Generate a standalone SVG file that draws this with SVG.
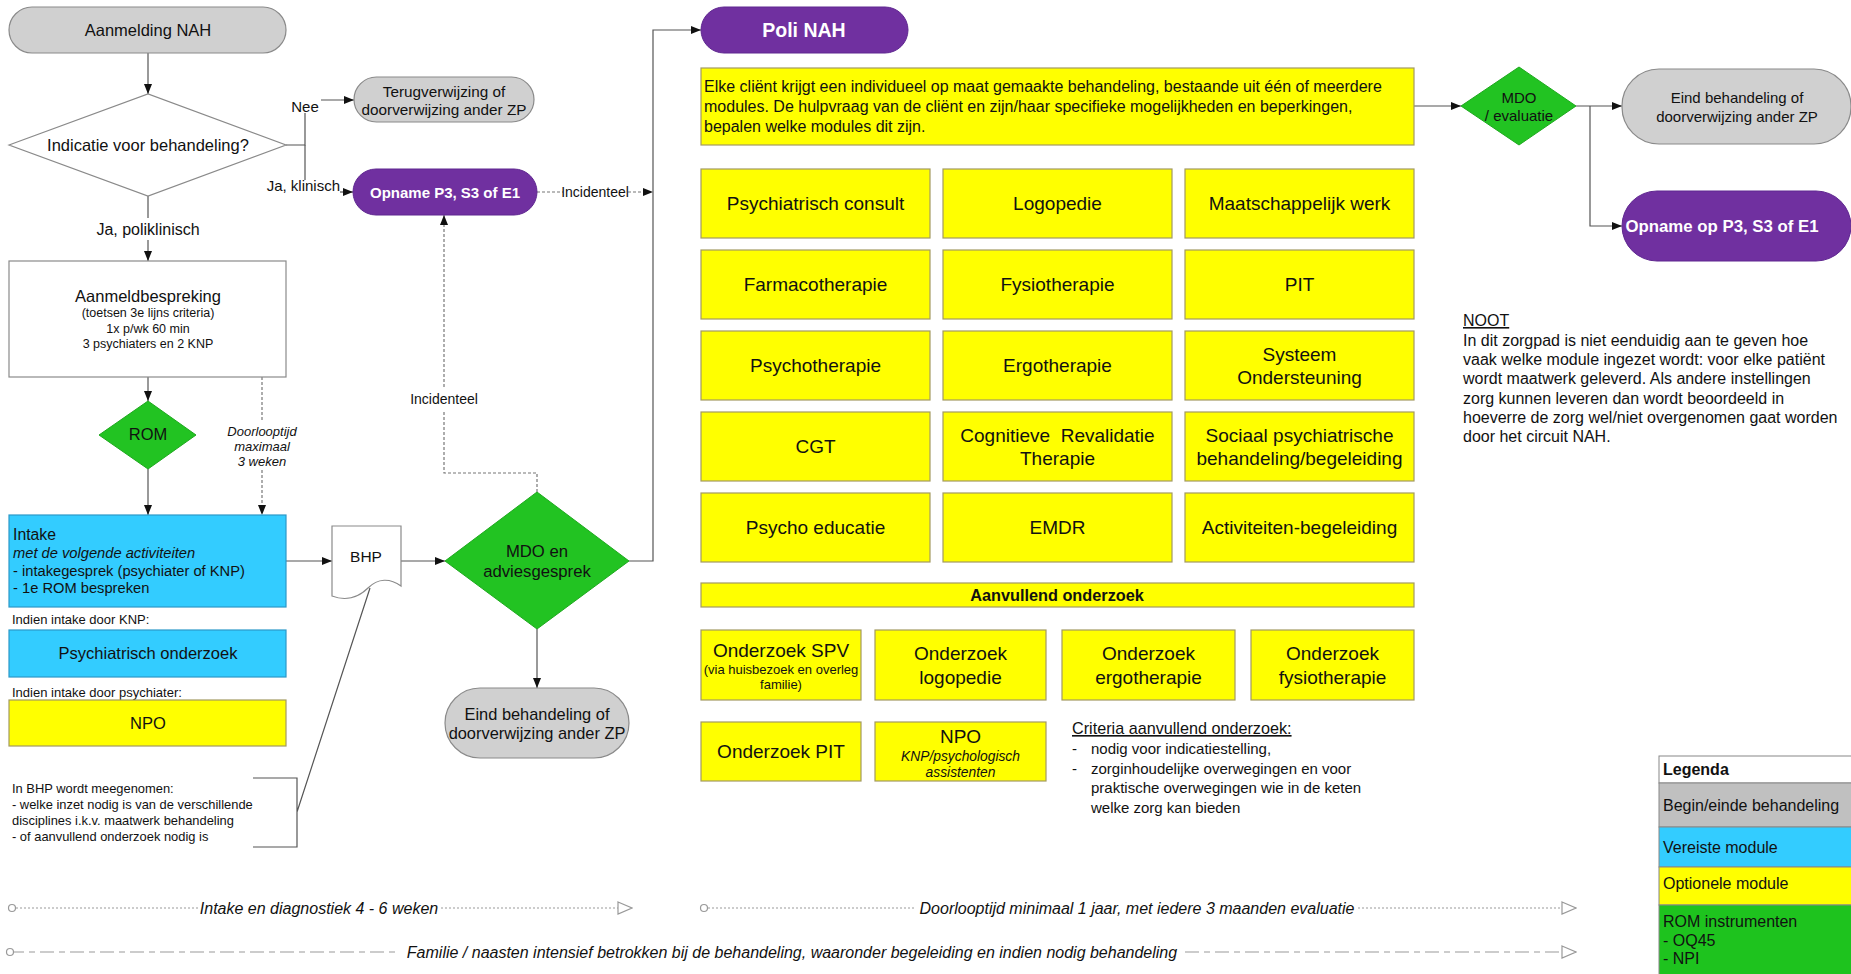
<svg xmlns="http://www.w3.org/2000/svg" width="1851" height="974" viewBox="0 0 1851 974">
  <defs>
    <style>
      text { font-family: "Liberation Sans", Arial, sans-serif; fill: #111; }
      .c { text-anchor: middle; dominant-baseline: central; }
      .gray { fill: #d0d0d0; stroke: #8a8a8a; stroke-width: 1.2; }
      .purple { fill: #7030a0; stroke: #5f2790; stroke-width: 1; }
      .yellow { fill: #ffff00; stroke: #a39a62; stroke-width: 1.2; }
      .blue { fill: #33ccff; stroke: #2c98c8; stroke-width: 1.2; }
      .green { fill: #22c322; stroke: #1ea81e; stroke-width: 1; }
      .white { fill: #ffffff; stroke: #8a8a8a; stroke-width: 1.2; }
      .wt { fill: #ffffff; font-weight: bold; }
      .mod { font-size: 19px; }
      .line { fill: none; stroke: #555; stroke-width: 1.2; }
      .dot { fill: none; stroke: #777; stroke-width: 1.2; stroke-dasharray: 3 2; }
      .tl { fill: none; stroke: #999; stroke-width: 1; stroke-dasharray: 2 2; }
      .tl2 { fill: none; stroke: #999; stroke-width: 1.2; stroke-dasharray: 14 5 6 5; }
      .lbl { font-size: 15px; }
      .tll { font-size: 16px; font-style: italic; }
    </style>
    <marker id="arr" viewBox="0 0 10 10" refX="10" refY="5" markerWidth="10" markerHeight="10" markerUnits="userSpaceOnUse" orient="auto">
      <path d="M0,1 L10,5 L0,9 Z" fill="#111"/>
    </marker>
    <marker id="open" viewBox="0 0 16 14" refX="15" refY="7" markerWidth="16" markerHeight="14" markerUnits="userSpaceOnUse" orient="auto">
      <path d="M1,1 L15,7 L1,13 Z" fill="#fff" stroke="#999" stroke-width="1.2"/>
    </marker>
    <marker id="ring" viewBox="0 0 10 10" refX="5" refY="5" markerWidth="10" markerHeight="10" markerUnits="userSpaceOnUse">
      <circle cx="5" cy="5" r="3.5" fill="#fff" stroke="#999" stroke-width="1.2"/>
    </marker>
  </defs>

  <rect width="1851" height="974" fill="#ffffff"/>

  <!-- connectors -->
  <g id="connectors">
    <path class="line" d="M148,53 V94" marker-end="url(#arr)"/>
    <path class="line" d="M286,145 H305 V113"/>
    <path class="line" d="M305,145 V180"/>
    <path class="line" d="M321,100 H354" marker-end="url(#arr)"/>
    <path class="line" d="M340,192 H353" marker-end="url(#arr)"/>
    <path class="line" d="M148,196 V218"/>
    <path class="line" d="M148,240 V261" marker-end="url(#arr)"/>
    <path class="line" d="M148,377 V401" marker-end="url(#arr)"/>
    <path class="line" d="M148,469 V515" marker-end="url(#arr)"/>
    <path class="dot" d="M262,377 V422"/>
    <path class="dot" d="M262,470 V515" marker-end="url(#arr)"/>
    <path class="line" d="M286,561 H332" marker-end="url(#arr)"/>
    <path class="line" d="M401,561 H445" marker-end="url(#arr)"/>
    <path class="dot" d="M537,492 V473 H444 V410"/>
    <path class="dot" d="M444,387 V215" marker-end="url(#arr)"/>
    <path class="dot" d="M537,192 H563"/>
    <path class="dot" d="M628,192 H653" marker-end="url(#arr)"/>
    <path class="line" d="M629,561 H653 V30 H701" marker-end="url(#arr)"/>
    <path class="line" d="M537,629 V688" marker-end="url(#arr)"/>
    <path class="line" d="M1414,106 H1461" marker-end="url(#arr)"/>
    <path class="line" d="M1576,106 H1622" marker-end="url(#arr)"/>
    <path class="line" d="M1590,106 V226 H1622" marker-end="url(#arr)"/>
    <path class="line" d="M253,778 H297 V847 H253 M297,812 L370,588" stroke="#777"/>
    <text class="lbl c" x="305" y="106">Nee</text>
    <text class="lbl" x="340" y="191" text-anchor="end">Ja, klinisch</text>
    <text class="c" x="148" y="229" font-size="16">Ja, poliklinisch</text>
    <text class="c" x="262" y="431" font-size="13" font-style="italic">Doorlooptijd</text>
    <text class="c" x="262" y="446" font-size="13" font-style="italic">maximaal</text>
    <text class="c" x="262" y="461" font-size="13" font-style="italic">3 weken</text>
    <text class="c" x="444" y="399" font-size="14">Incidenteel</text>
    <text class="c" x="595" y="192" font-size="14">Incidenteel</text>
  </g>

  <!-- left column: aanmelding and intake -->
  <g id="aanmelding">
    <rect class="gray" x="9" y="7" width="277" height="46" rx="23"/>
    <text class="c" x="148" y="30" font-size="16.5">Aanmelding NAH</text>
  </g>
  <g id="indicatie">
    <polygon class="white" points="9,145 148,94 286,145 148,196"/>
    <text class="c" x="148" y="145" font-size="16.5">Indicatie voor behandeling?</text>
  </g>
  <g id="terugverwijzing">
    <rect class="gray" x="354" y="77" width="180" height="45" rx="22.5"/>
    <text class="c" x="444" y="91" font-size="15.3">Terugverwijzing of</text>
    <text class="c" x="444" y="109" font-size="15.3">doorverwijzing ander ZP</text>
  </g>
  <g id="opname-p3">
    <rect class="purple" x="353" y="169" width="184" height="46" rx="23"/>
    <text class="c wt" x="445" y="192" font-size="15">Opname P3, S3 of E1</text>
  </g>
  <g id="aanmeldbespreking">
    <rect class="white" x="9" y="261" width="277" height="116" stroke="#777"/>
    <text class="c" x="148" y="296" font-size="16.5">Aanmeldbespreking</text>
    <text class="c" x="148" y="313" font-size="12.5">(toetsen 3e lijns criteria)</text>
    <text class="c" x="148" y="329" font-size="12.5">1x p/wk 60 min</text>
    <text class="c" x="148" y="344" font-size="12.5">3 psychiaters en 2 KNP</text>
  </g>
  <g id="rom">
    <polygon class="green" points="99,435 148,401 196,435 148,469"/>
    <text class="c" x="148" y="434" font-size="16.5">ROM</text>
  </g>
  <g id="intake">
    <rect class="blue" x="9" y="515" width="277" height="92"/>
    <text x="13" y="540" font-size="15.8">Intake</text>
    <text x="13" y="558" font-size="14.7" font-style="italic">met de volgende activiteiten</text>
    <text x="13" y="576" font-size="14.7">- intakegesprek (psychiater of KNP)</text>
    <text x="13" y="593" font-size="14.7">- 1e ROM bespreken</text>
  </g>
  <text x="12" y="624" font-size="13">Indien intake door KNP:</text>
  <g id="psychiatrisch-onderzoek">
    <rect class="blue" x="9" y="630" width="277" height="47"/>
    <text class="c" x="148" y="653" font-size="16.5">Psychiatrisch onderzoek</text>
  </g>
  <text x="12" y="697" font-size="13">Indien intake door psychiater:</text>
  <g id="npo-intake">
    <rect class="yellow" x="9" y="700" width="277" height="46"/>
    <text class="c" x="148" y="723" font-size="16.5">NPO</text>
  </g>
  <g id="bhp-notitie">
    <text x="12" y="793" font-size="12.9">In BHP wordt meegenomen:</text>
    <text x="12" y="809" font-size="12.9">- welke inzet nodig is van de verschillende</text>
    <text x="12" y="825" font-size="12.9">disciplines i.k.v. maatwerk behandeling</text>
    <text x="12" y="841" font-size="12.9">- of aanvullend onderzoek nodig is</text>
  </g>
  <g id="bhp">
    <path class="white" d="M332,526 H401 V586 C390,578 378,578 368,588 C358,598 345,601 332,596 Z" stroke="#777"/>
    <text class="c" x="366" y="556" font-size="15.5">BHP</text>
  </g>
  <g id="mdo-advies">
    <polygon class="green" points="445,561 537,492 629,561 537,629"/>
    <text class="c" x="537" y="551" font-size="16.7">MDO en</text>
    <text class="c" x="537" y="571" font-size="16.7">adviesgesprek</text>
  </g>
  <g id="eind-1">
    <rect class="gray" x="445" y="688" width="184" height="70" rx="35"/>
    <text class="c" x="537" y="714" font-size="16.4">Eind behandeling of</text>
    <text class="c" x="537" y="733" font-size="16.4">doorverwijzing ander ZP</text>
  </g>

  <!-- middle: poli and modules -->
  <g id="poli">
    <rect class="purple" x="701" y="7" width="207" height="46" rx="23"/>
    <text class="c wt" x="804" y="30" font-size="19.5">Poli NAH</text>
  </g>
  <g id="uitleg">
    <rect class="yellow" x="701" y="68" width="713" height="77"/>
    <text x="704" y="92" font-size="16">Elke cliënt krijgt een individueel op maat gemaakte behandeling, bestaande uit één of meerdere</text>
    <text x="704" y="112" font-size="16">modules. De hulpvraag van de cliënt en zijn/haar specifieke mogelijkheden en beperkingen,</text>
    <text x="704" y="132" font-size="16">bepalen welke modules dit zijn.</text>
  </g>

  <g id="m-psychiatrisch-consult"><rect class="yellow" x="701" y="169" width="229" height="69"/><text class="c mod" x="815.5" y="203.5">Psychiatrisch consult</text></g>
  <g id="m-logopedie"><rect class="yellow" x="943" y="169" width="229" height="69"/><text class="c mod" x="1057.5" y="203.5">Logopedie</text></g>
  <g id="m-maatschappelijk-werk"><rect class="yellow" x="1185" y="169" width="229" height="69"/><text class="c mod" x="1299.5" y="203.5">Maatschappelijk werk</text></g>

  <g id="m-farmacotherapie"><rect class="yellow" x="701" y="250" width="229" height="69"/><text class="c mod" x="815.5" y="284.5">Farmacotherapie</text></g>
  <g id="m-fysiotherapie"><rect class="yellow" x="943" y="250" width="229" height="69"/><text class="c mod" x="1057.5" y="284.5">Fysiotherapie</text></g>
  <g id="m-pit"><rect class="yellow" x="1185" y="250" width="229" height="69"/><text class="c mod" x="1299.5" y="284.5">PIT</text></g>

  <g id="m-psychotherapie"><rect class="yellow" x="701" y="331" width="229" height="69"/><text class="c mod" x="815.5" y="365.5">Psychotherapie</text></g>
  <g id="m-ergotherapie"><rect class="yellow" x="943" y="331" width="229" height="69"/><text class="c mod" x="1057.5" y="365.5">Ergotherapie</text></g>
  <g id="m-systeem"><rect class="yellow" x="1185" y="331" width="229" height="69"/><text class="c mod" x="1299.5" y="354">Systeem</text><text class="c mod" x="1299.5" y="377">Ondersteuning</text></g>

  <g id="m-cgt"><rect class="yellow" x="701" y="412" width="229" height="69"/><text class="c mod" x="815.5" y="446.5">CGT</text></g>
  <g id="m-crt"><rect class="yellow" x="943" y="412" width="229" height="69"/><text class="c mod" x="1057.5" y="435" xml:space="preserve">Cognitieve  Revalidatie</text><text class="c mod" x="1057.5" y="458">Therapie</text></g>
  <g id="m-sociaal"><rect class="yellow" x="1185" y="412" width="229" height="69"/><text class="c mod" x="1299.5" y="435">Sociaal psychiatrische</text><text class="c mod" x="1299.5" y="458">behandeling/begeleiding</text></g>

  <g id="m-psycho-educatie"><rect class="yellow" x="701" y="493" width="229" height="69"/><text class="c mod" x="815.5" y="527.5">Psycho educatie</text></g>
  <g id="m-emdr"><rect class="yellow" x="943" y="493" width="229" height="69"/><text class="c mod" x="1057.5" y="527.5">EMDR</text></g>
  <g id="m-activiteiten"><rect class="yellow" x="1185" y="493" width="229" height="69"/><text class="c mod" x="1299.5" y="527.5">Activiteiten-begeleiding</text></g>

  <g id="aanvullend">
    <rect class="yellow" x="701" y="583" width="713" height="24"/>
    <text class="c" x="1057" y="595" font-size="16.3" font-weight="bold">Aanvullend onderzoek</text>
  </g>
  <g id="o-spv"><rect class="yellow" x="701" y="630" width="160" height="70"/><text class="c mod" x="781" y="650">Onderzoek SPV</text><text class="c" x="781" y="669" font-size="13">(via huisbezoek en overleg</text><text class="c" x="781" y="684" font-size="13">familie)</text></g>
  <g id="o-logopedie"><rect class="yellow" x="875" y="630" width="171" height="70"/><text class="c mod" x="960.5" y="653">Onderzoek</text><text class="c mod" x="960.5" y="677">logopedie</text></g>
  <g id="o-ergotherapie"><rect class="yellow" x="1062" y="630" width="173" height="70"/><text class="c mod" x="1148.5" y="653">Onderzoek</text><text class="c mod" x="1148.5" y="677">ergotherapie</text></g>
  <g id="o-fysiotherapie"><rect class="yellow" x="1251" y="630" width="163" height="70"/><text class="c mod" x="1332.5" y="653">Onderzoek</text><text class="c mod" x="1332.5" y="677">fysiotherapie</text></g>
  <g id="o-pit"><rect class="yellow" x="701" y="722" width="160" height="59"/><text class="c mod" x="781" y="751">Onderzoek PIT</text></g>
  <g id="o-npo"><rect class="yellow" x="875" y="722" width="171" height="59"/><text class="c mod" x="960.5" y="736">NPO</text><text class="c" x="960.5" y="756" font-size="13.8" font-style="italic">KNP/psychologisch</text><text class="c" x="960.5" y="772" font-size="13.8" font-style="italic">assistenten</text></g>

  <g id="criteria">
    <text x="1072" y="734" font-size="16.2" text-decoration="underline">Criteria aanvullend onderzoek:</text>
    <text x="1072" y="754" font-size="15">-</text>
    <text x="1091" y="754" font-size="15">nodig voor indicatiestelling,</text>
    <text x="1072" y="774" font-size="15">-</text>
    <text x="1091" y="774" font-size="15">zorginhoudelijke overwegingen en voor</text>
    <text x="1091" y="793" font-size="15">praktische overwegingen wie in de keten</text>
    <text x="1091" y="813" font-size="15">welke zorg kan bieden</text>
  </g>

  <!-- right: evaluation and outcomes -->
  <g id="mdo-evaluatie">
    <polygon class="green" points="1461,106 1519,67 1576,106 1519,145"/>
    <text class="c" x="1519" y="97" font-size="15">MDO</text>
    <text class="c" x="1519" y="115" font-size="15">/ evaluatie</text>
  </g>
  <g id="eind-2">
    <rect class="gray" x="1622" y="69" width="229" height="75" rx="37"/>
    <text class="c" x="1737" y="97" font-size="15">Eind behandeling of</text>
    <text class="c" x="1737" y="116" font-size="15">doorverwijzing ander ZP</text>
  </g>
  <g id="opname-op">
    <rect class="purple" x="1622" y="191" width="229" height="70" rx="35"/>
    <text class="c wt" x="1722" y="226" font-size="16.8">Opname op P3, S3 of E1</text>
  </g>
  <g id="noot">
    <text x="1463" y="326" font-size="16" text-decoration="underline">NOOT</text>
    <text x="1463" y="346" font-size="16">In dit zorgpad is niet eenduidig aan te geven hoe</text>
    <text x="1463" y="365" font-size="16">vaak welke module ingezet wordt: voor elke patiënt</text>
    <text x="1463" y="384" font-size="16">wordt maatwerk geleverd. Als andere instellingen</text>
    <text x="1463" y="404" font-size="16">zorg kunnen leveren dan wordt beoordeeld in</text>
    <text x="1463" y="423" font-size="16">hoeverre de zorg wel/niet overgenomen gaat worden</text>
    <text x="1463" y="442" font-size="16">door het circuit NAH.</text>
  </g>

  <g id="legenda">
    <rect x="1659" y="756" width="200" height="27" fill="#ffffff" stroke="#888"/>
    <rect x="1659" y="783" width="200" height="44" fill="#c0c0c0" stroke="#888"/>
    <rect x="1659" y="827" width="200" height="40" fill="#33ccff" stroke="#888"/>
    <rect x="1659" y="867" width="200" height="38" fill="#ffff00" stroke="#888"/>
    <rect x="1659" y="905" width="200" height="72" fill="#1ec31e" stroke="#888"/>
    <text x="1663" y="775" font-size="16" font-weight="bold">Legenda</text>
    <text x="1663" y="811" font-size="16">Begin/einde behandeling</text>
    <text x="1663" y="853" font-size="16">Vereiste module</text>
    <text x="1663" y="889" font-size="16">Optionele module</text>
    <text x="1663" y="927" font-size="16">ROM instrumenten</text>
    <text x="1663" y="946" font-size="16">- OQ45</text>
    <text x="1663" y="964" font-size="16">- NPI</text>
  </g>

  <!-- time lines -->
  <g id="tijdlijnen">
    <path class="tl" d="M12,908 H198" marker-start="url(#ring)"/>
    <path class="tl" d="M441,908 H632" marker-end="url(#open)"/>
    <text class="tll" x="319" y="914" text-anchor="middle">Intake en diagnostiek 4 - 6 weken</text>
    <path class="tl" d="M704,908 H916" marker-start="url(#ring)"/>
    <path class="tl" d="M1358,908 H1576" marker-end="url(#open)"/>
    <text class="tll" x="1137" y="914" text-anchor="middle">Doorlooptijd minimaal 1 jaar, met iedere 3 maanden evaluatie</text>
    <path class="tl2" d="M10,952 H399" marker-start="url(#ring)"/>
    <path class="tl2" d="M1185,952 H1576" marker-end="url(#open)"/>
    <text class="tll" x="792" y="958" text-anchor="middle" font-size="16.3">Familie / naasten intensief betrokken bij de behandeling, waaronder begeleiding en indien nodig behandeling</text>
  </g>
</svg>
